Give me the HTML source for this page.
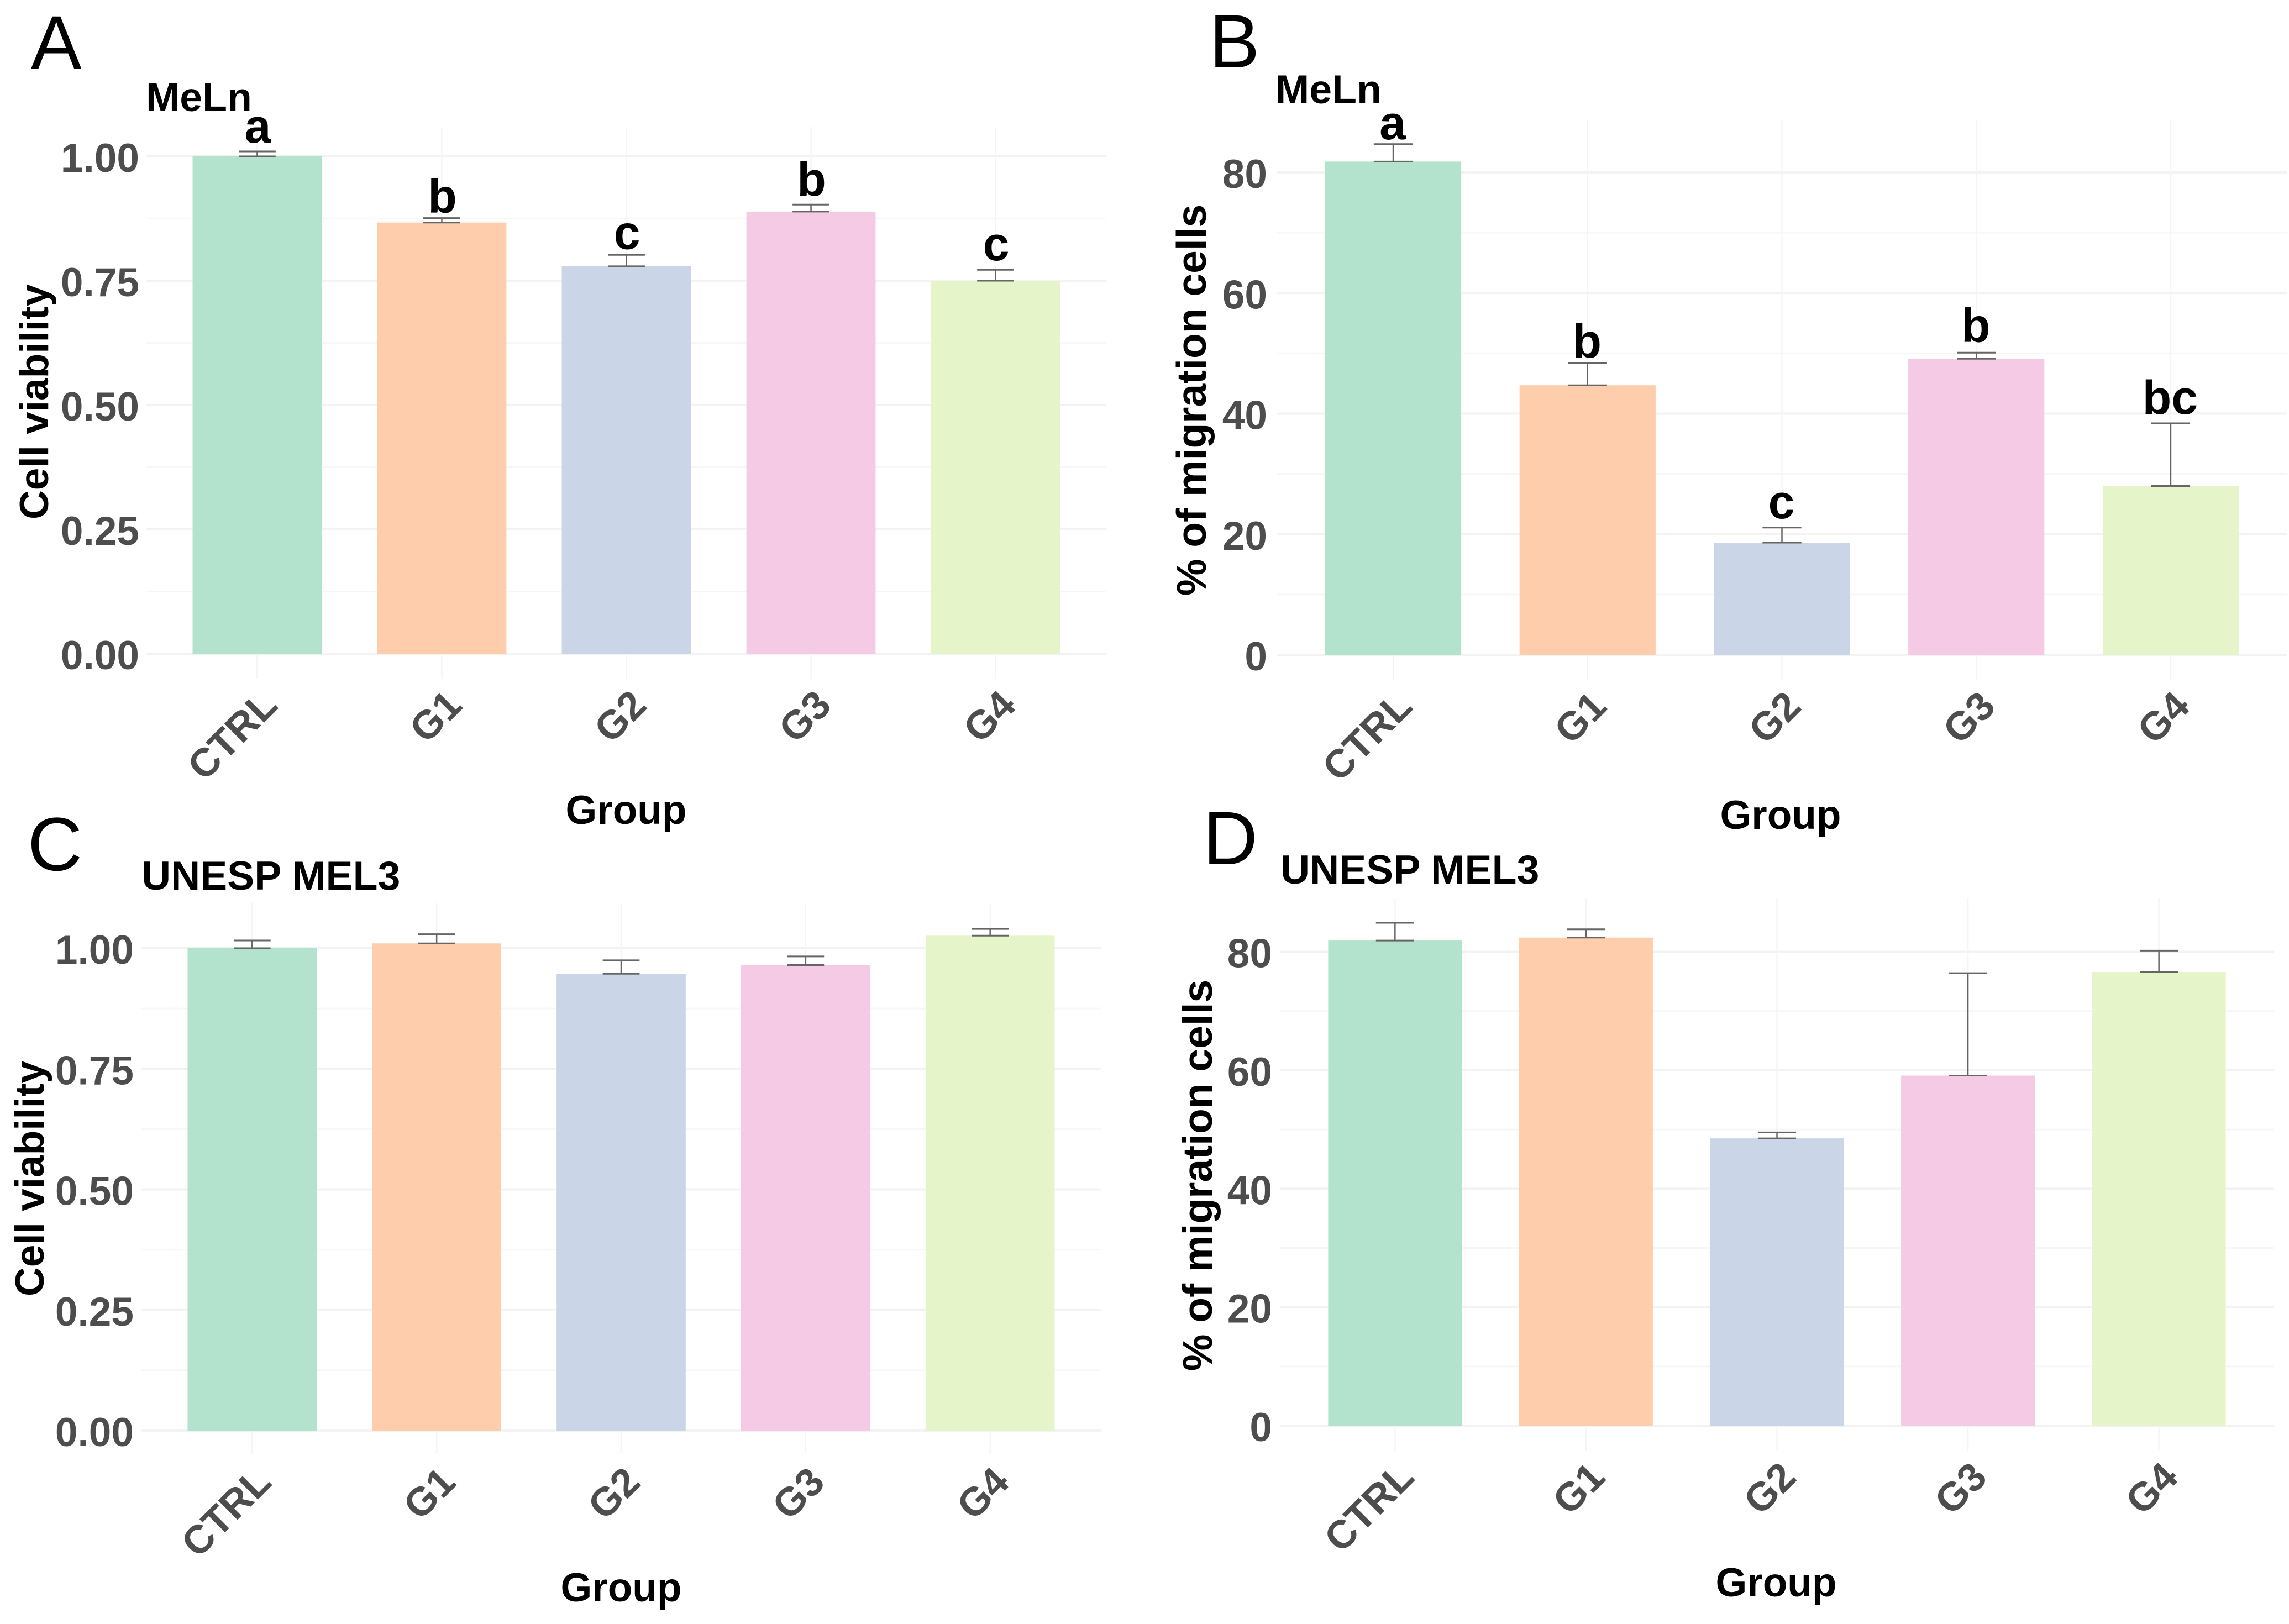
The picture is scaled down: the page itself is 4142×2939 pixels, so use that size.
<!DOCTYPE html>
<html lang="en">
<head>
<meta charset="utf-8">
<title>Cell viability and migration by group</title>
<style>
html,body{margin:0;padding:0;background:#fff;}
svg{display:block;font-family:"Liberation Sans",Arial,sans-serif;}
.panel-letter{font-size:137px;fill:#000;}
.title{font-size:73.5px;font-weight:bold;fill:#000;}
.axis-title{font-size:73px;font-weight:bold;fill:#000;}
.axis-title-wide{font-size:75px;font-weight:bold;fill:#000;}
</style>
</head>
<body>
<svg id="figure" width="4142" height="2939" viewBox="0 0 4142 2939" xmlns="http://www.w3.org/2000/svg">
  <rect width="4142" height="2939" fill="#ffffff"/>
  <g id="panel-a"></g>
  <g id="panel-b"></g>
  <g id="panel-c"></g>
  <g id="panel-d"></g>

  <text class="panel-letter" x="56" y="124">A</text>
  <text class="panel-letter" x="2188" y="122">B</text>
  <text class="panel-letter" x="50" y="1575">C</text>
  <text class="panel-letter" x="2177" y="1564">D</text>

  <text class="title" x="264" y="201">MeLn</text>
  <text class="title" x="2308" y="187">MeLn</text>
  <text class="title" x="256" y="1610">UNESP MEL3</text>
  <text class="title" x="2317" y="1599">UNESP MEL3</text>

  <text class="axis-title" text-anchor="middle" transform="translate(87,727) rotate(-90)">Cell viability</text>
  <text class="axis-title-wide" text-anchor="middle" transform="translate(2182,724) rotate(-90)">% of migration cells</text>
  <text class="axis-title" text-anchor="middle" transform="translate(79,2133) rotate(-90)">Cell viability</text>
  <text class="axis-title-wide" text-anchor="middle" transform="translate(2193,2127) rotate(-90)">% of migration cells</text>

  <text class="axis-title" text-anchor="middle" x="1133" y="1491">Group</text>
  <text class="axis-title" text-anchor="middle" x="3222" y="1500">Group</text>
  <text class="axis-title" text-anchor="middle" x="1124" y="2898">Group</text>
  <text class="axis-title" text-anchor="middle" x="3214" y="2889">Group</text>
</svg>
<script>
// ---- chart data ----
const categories = ['CTRL', 'G1', 'G2', 'G3', 'G4'];
const barColors = ['#B3E2CD', '#FDCDAC', '#CBD5E8', '#F4CAE4', '#E6F5C9'];

const viabilityTicks = [0, 0.25, 0.5, 0.75, 1];
const viabilityTickLabels = ['0.00', '0.25', '0.50', '0.75', '1.00'];
const migrationTicks = [0, 20, 40, 60, 80];
const migrationTickLabels = ['0', '20', '40', '60', '80'];

const valuesA = [1.0, 0.867, 0.779, 0.889, 0.75];
const upperA = [1.01, 0.876, 0.802, 0.903, 0.772];
const lettersA = ['a', 'b', 'c', 'b', 'c'];
const letterGapA = [0.018, 0.011, 0.012, 0.018, 0.019];

const valuesB = [81.8, 44.7, 18.6, 49.1, 28.0];
const upperB = [84.7, 48.4, 21.1, 50.1, 38.4];
const lettersB = ['a', 'b', 'c', 'b', 'bc'];
const letterGapB = [0.8, 0.9, 1.55, 1.8, 1.55];

const valuesC = [1.0, 1.01, 0.947, 0.965, 1.026];
const upperC = [1.016, 1.029, 0.975, 0.983, 1.04];

const valuesD = [81.9, 82.4, 48.5, 59.1, 76.6];
const upperD = [84.9, 83.8, 49.5, 76.4, 80.2];

// ---- panel layout (plot frame in figure pixels) ----
const panelA = {id:'a', values:valuesA, upper:upperA, letters:lettersA, letterGap:letterGapA, letterDx:1, tickDx:40,
  ticks:viabilityTicks, tickLabels:viabilityTickLabels,
  left:265, right:2002, top:230, bottom:1229, y0:1183, yRef:283, refVal:1, tickRight:252};
const panelB = {id:'b', values:valuesB, upper:upperB, letters:lettersB, letterGap:letterGapB, letterDx:-1, tickDx:38,
  ticks:migrationTicks, tickLabels:migrationTickLabels,
  left:2310, right:4139, top:215, bottom:1231, y0:1185, yRef:312, refVal:80, tickRight:2293};
const panelC = {id:'c', values:valuesC, upper:upperC, letters:null, letterGap:null, letterDx:0, tickDx:38,
  ticks:viabilityTicks, tickLabels:viabilityTickLabels,
  left:256, right:1992, top:1635, bottom:2632, y0:2589, yRef:1716, refVal:1, tickRight:242};
const panelD = {id:'d', values:valuesD, upper:upperD, letters:null, letterGap:null, letterDx:0, tickDx:38,
  ticks:migrationTicks, tickLabels:migrationTickLabels,
  left:2317, right:4114, top:1626, bottom:2626, y0:2580, yRef:1722.5, refVal:80, tickRight:2302};

const SVGNS = 'http://www.w3.org/2000/svg';

function make(tag, attrs, parent) {
  const el = document.createElementNS(SVGNS, tag);
  for (const k in attrs) el.setAttribute(k, attrs[k]);
  parent.appendChild(el);
  return el;
}

function drawPanel(p) {
  const g = document.getElementById('panel-' + p.id);
  const step = (p.right - p.left) / 5.2;
  const barWidth = step * 0.7;
  const capHalf = step * 0.1;
  const xScale = function (i) { return p.left + (i + 0.6) * step; };
  const yScale = function (v) { return p.y0 - v * (p.y0 - p.yRef) / p.refVal; };

  // minor horizontal gridlines
  for (let i = 0; i < p.ticks.length - 1; i++) {
    const y = yScale((p.ticks[i] + p.ticks[i + 1]) / 2);
    const minor = make('line', {x1:p.left, x2:p.right, y1:y, y2:y, stroke:'#f7f7f7', 'stroke-width':3}, g);
    
    
  }
  // major horizontal gridlines and y tick labels
  p.ticks.forEach(function (t, i) {
    const y = yScale(t);
    const major = make('line', {x1:p.left, x2:p.right, y1:y, y2:y, stroke:'#f3f3f3', 'stroke-width':4}, g);
    
    
    const label = make('text', {x:p.tickRight, y:y + 28, 'text-anchor':'end', 'font-size':73, 'font-weight':'bold', fill:'#4d4d4d'}, g);
    
    
    label.textContent = p.tickLabels[i];
  });

  categories.forEach(function (cat, i) {
    const cx = xScale(i);
    const grid = make('line', {x1:cx, x2:cx, y1:p.top, y2:p.bottom, stroke:'#f5f5f5', 'stroke-width':2.5}, g);
    
    

    const yTop = yScale(p.values[i]);
    const bar = make('rect', {x:cx - barWidth / 2, y:yTop, width:barWidth, height:p.y0 - yTop, fill:barColors[i]}, g);
    
    

    const yUp = yScale(p.upper[i]);
    const stem = make('line', {x1:cx, x2:cx, y1:yTop, y2:yUp, stroke:'#666666', 'stroke-width':2.5}, g);
    
    
    const capTop = make('line', {x1:cx - capHalf, x2:cx + capHalf, y1:yUp, y2:yUp, stroke:'#666666', 'stroke-width':3}, g);
    
    
    const capLow = make('line', {x1:cx - capHalf, x2:cx + capHalf, y1:yTop, y2:yTop, stroke:'#666666', 'stroke-width':3}, g);
    
    

    if (p.letters) {
      const sig = make('text', {x:cx + p.letterDx, y:yScale(p.upper[i] + p.letterGap[i]), 'text-anchor':'middle', 'font-size':86, 'font-weight':'bold', fill:'#000'}, g);
      
      
      sig.textContent = p.letters[i];
    }

    const ax = cx + p.tickDx;
    const ay = p.y0 + 97;
    const tick = make('text', {x:ax, y:ay, 'text-anchor':'end', 'font-size':72, 'font-weight':'bold', fill:'#4d4d4d', transform:'rotate(-45 ' + ax + ' ' + ay + ')'}, g);
    
    
    tick.textContent = cat;
  });
}

drawPanel(panelA);
drawPanel(panelB);
drawPanel(panelC);
drawPanel(panelD);
</script>
</body>
</html>
